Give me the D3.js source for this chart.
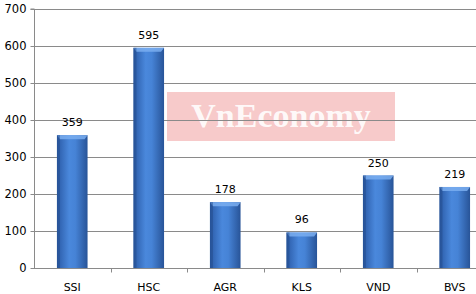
<!DOCTYPE html>
<html><head><meta charset="utf-8">
<script src="https://cdn.jsdelivr.net/npm/d3@7"></script>
<style>html,body{margin:0;padding:0;background:#fff;overflow:hidden}</style>
</head><body>
<script>
const categories = ["SSI","HSC","AGR","KLS","VND","BVS"];
const values = [359,595,178,96,250,219];
const yTicks = [0,100,200,300,400,500,600,700];

(function(){
const W=476,H=294;
const svg=d3.select("body").append("svg").attr("width",W).attr("height",H)
  .style("font-family","'DejaVu Sans',Verdana,sans-serif");
const pl=34, pr=493, pt=9, pb=268;
const x=d3.scaleBand().domain(categories).range([pl,pr]).paddingInner(0.6).paddingOuter(0.3);
const xb=d3.scaleBand().domain(categories).range([pl,pr]);
const y=d3.scaleLinear().domain([0,700]).range([pb,pt]);

const defs=svg.append("defs");
const g=defs.append("linearGradient").attr("id","bg").attr("x1","0").attr("x2","1").attr("y1","0").attr("y2","0");
g.append("stop").attr("offset","0%").attr("stop-color","#2a5aa6");
g.append("stop").attr("offset","40%").attr("stop-color","#4a88dc");
g.append("stop").attr("offset","60%").attr("stop-color","#4683d6");
g.append("stop").attr("offset","100%").attr("stop-color","#285498");

// watermark
svg.append("rect").attr("x",167).attr("y",92).attr("width",228).attr("height",49).attr("fill","#f7caca");
svg.append("text").attr("x",281).attr("y",127).attr("text-anchor","middle")
  .attr("font-family","'Liberation Serif','DejaVu Serif',serif").attr("font-weight","bold")
  .attr("font-size",34).attr("fill","#fff").attr("fill-opacity",0.9).text("VnEconomy");

// grid
svg.append("g").selectAll("line").data(yTicks.filter(d=>d>0)).join("line")
  .attr("x1",pl).attr("x2",W).attr("y1",d=>Math.round(y(d))+0.5).attr("y2",d=>Math.round(y(d))+0.5)
  .attr("stroke","#8a8a8a").attr("stroke-width",1);

// y axis
const ya=svg.append("g").attr("transform",`translate(${pl+0.5},0)`)
  .call(d3.axisLeft(y).tickValues(yTicks).tickSize(4).tickPadding(4).tickFormat(d3.format("d")));
ya.select(".domain").attr("stroke","#8a8a8a").attr("d",`M-4,${pt}H0V${pb}`);
ya.selectAll(".tick line").attr("stroke","#8a8a8a");
ya.selectAll(".tick text").attr("font-size",11.5).attr("fill","#000").attr("font-family","'DejaVu Sans',Verdana,sans-serif")
  .attr("x",-8);
ya.selectAll(".tick").attr("transform",d=>`translate(0,${Math.round(y(d))+0.5})`);

// x axis
const xa=svg.append("g").attr("transform",`translate(0,${pb+0.5})`);
xa.append("line").attr("x1",pl).attr("x2",pr).attr("stroke","#8a8a8a");
xa.selectAll("line.t").data(categories.slice(1)).join("line").attr("class","t")
  .attr("x1",d=>Math.round(xb(d))+0.5).attr("x2",d=>Math.round(xb(d))+0.5).attr("y1",0).attr("y2",4).attr("stroke","#8a8a8a");
xa.selectAll("text").data(categories).join("text")
  .attr("x",d=>xb(d)+xb.bandwidth()/2).attr("y",22).attr("text-anchor","middle")
  .attr("font-size",11).attr("fill","#000").text(d=>d);

// bars
const data=categories.map((c,i)=>({c,v:values[i]}));
const bars=svg.append("g").selectAll("g").data(data).join("g");
bars.append("rect").attr("x",d=>x(d.c)).attr("width",x.bandwidth())
  .attr("y",d=>y(d.v)).attr("height",d=>pb-y(d.v)).attr("fill","url(#bg)");
bars.append("path").attr("d",d=>{const x0=x(d.c),x1=x0+x.bandwidth(),t=y(d.v);
  return `M${x0},${t}H${x1}L${x1-3},${t+4}H${x0+3}Z`;}).attr("fill","#7aaef0").attr("opacity",0.85);
bars.append("rect").attr("x",d=>x(d.c)).attr("width",3).attr("y",d=>y(d.v)).attr("height",d=>pb-y(d.v))
  .attr("fill","#234c8c").attr("opacity",0.5);
bars.append("text").attr("x",d=>x(d.c)+x.bandwidth()/2).attr("y",d=>y(d.v)-9)
  .attr("text-anchor","middle").attr("font-size",11).attr("fill","#000").text(d=>d.v);
})();
</script>
</body></html>
